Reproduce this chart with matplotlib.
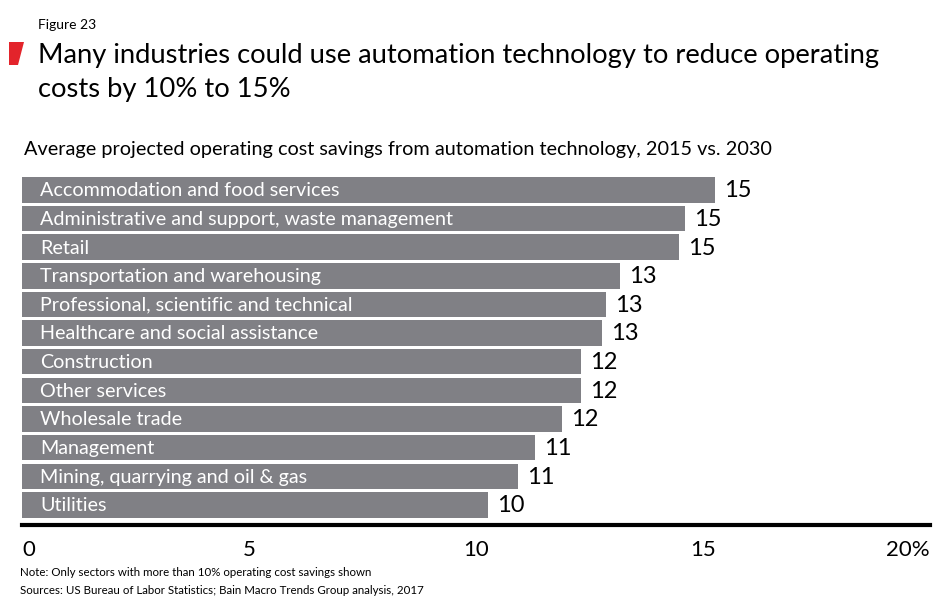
import matplotlib
matplotlib.use('Agg')
import matplotlib.pyplot as plt
from matplotlib.patches import Polygon

plt.rcParams['font.family'] = ['Lato', 'DejaVu Sans']

# data (top to bottom)
sectors = ['Accommodation and food services',
           'Administrative and support, waste management',
           'Retail',
           'Transportation and warehousing',
           'Professional, scientific and technical',
           'Healthcare and social assistance',
           'Construction',
           'Other services',
           'Wholesale trade',
           'Management',
           'Mining, quarrying and oil & gas',
           'Utilities']
savings = [15.26, 14.6, 14.47, 13.17, 12.86, 12.78, 12.31, 12.31, 11.89, 11.3, 10.93, 10.26]
shown = [15, 15, 15, 13, 13, 13, 12, 12, 12, 11, 11, 10]
xticks = [0, 5, 10, 15, 20]
xticklabels = ['0', '5', '10', '15', '20%']

fig = plt.figure(figsize=(9.5, 6.15), dpi=100)
ax = fig.add_axes([22/950, 1 - 525/615, 908/950, (525 - 177)/615])

ypos = list(range(len(sectors)))
ax.barh(ypos, savings, height=0.89, color='#808085', edgecolor='none')
for y, name, v, s in zip(ypos, sectors, savings, shown):
    ax.text(0.4, y + 0.03, name, color='white', fontsize=14.2, va='center', ha='left')
    ax.text(v + 0.2, y + 0.03, str(s), color='black', fontsize=17, va='center', ha='left')

ax.set_xlim(0, 20)
ax.set_ylim(11.7, -0.45)
for sp in ['top', 'right', 'left']:
    ax.spines[sp].set_visible(False)
ax.spines['bottom'].set_linewidth(3)
ax.set_yticks([])
ax.set_xticks(xticks)
ax.set_xticklabels(xticklabels, fontsize=16)
ax.tick_params(axis='x', length=0, pad=11)
labs = ax.get_xticklabels()
labs[0].set_ha('left')
labs[-1].set_ha('right')

# header
fig.text(38/950, 1 - 25/615, 'Figure 23', fontsize=10, va='center', ha='left')
fig.patches.append(Polygon([[9/950, 1 - 42/615], [24/950, 1 - 42/615],
                            [18/950, 1 - 65/615], [9/950, 1 - 65/615]],
                           closed=True, transform=fig.transFigure,
                           facecolor='#e3242b', edgecolor='none'))
fig.text(38/950, 1 - 56/615, 'Many industries could use automation technology to reduce operating',
         fontsize=19.7, va='center', ha='left')
fig.text(38/950, 1 - 89/615, 'costs by 10% to 15%', fontsize=19.7, va='center', ha='left')
fig.text(24/950, 1 - 149/615,
         'Average projected operating cost savings from automation technology, 2015 vs. 2030',
         fontsize=14.3, va='center', ha='left')

fig.text(20/950, 1 - 573/615, 'Note: Only sectors with more than 10% operating cost savings shown',
         fontsize=8.3, va='center', ha='left')
fig.text(20/950, 1 - 590/615, 'Sources: US Bureau of Labor Statistics; Bain Macro Trends Group analysis, 2017',
         fontsize=8.3, va='center', ha='left')

fig.savefig('out.png', dpi=100)
